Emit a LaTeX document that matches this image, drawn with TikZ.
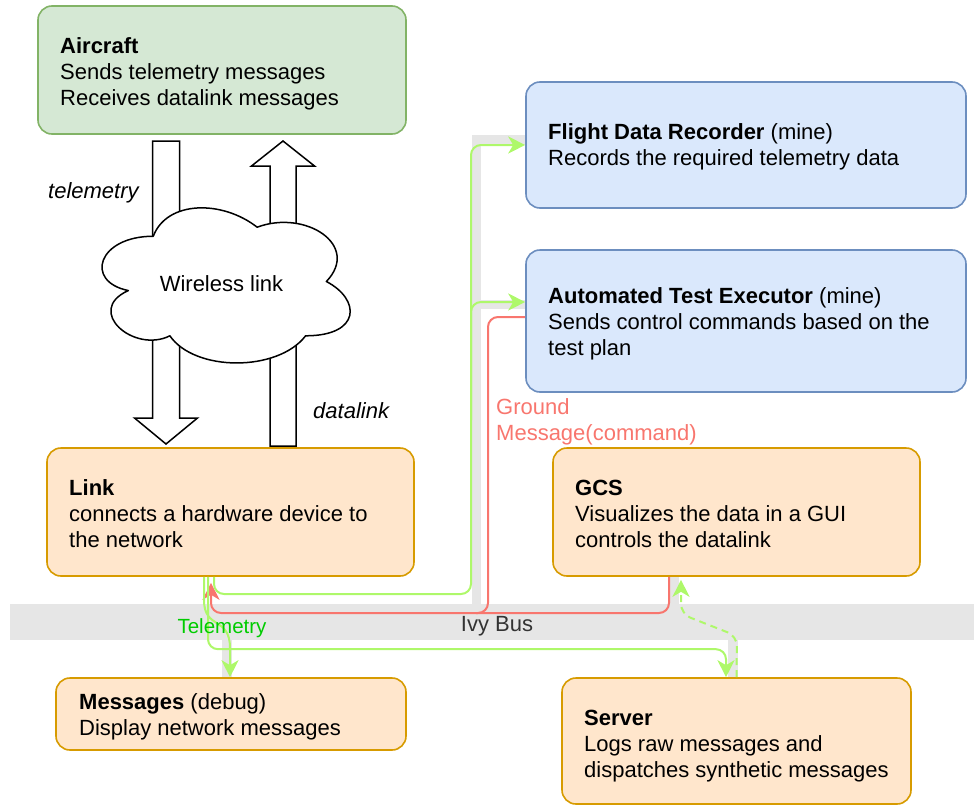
\documentclass[tikz,border=0pt]{standalone}
\usepackage{fontspec}
\setmainfont{Liberation Sans}
\usetikzlibrary{arrows.meta}

\definecolor{grnfill}{HTML}{D5E8D4}
\definecolor{grnline}{HTML}{82B366}
\definecolor{bluefill}{HTML}{DAE8FC}
\definecolor{blueline}{HTML}{6C8EBF}
\definecolor{orgfill}{HTML}{FFE6CC}
\definecolor{orgline}{HTML}{D79B00}
\definecolor{busgray}{HTML}{E6E6E6}
\definecolor{lime}{HTML}{AEF86A}
\definecolor{salmon}{HTML}{F8766E}
\definecolor{telgreen}{HTML}{00CC00}
\definecolor{busText}{HTML}{333333}

\begin{document}
\begin{tikzpicture}[x=1pt,y=-1pt,
  box/.style={rectangle, rounded corners=14pt, line width=1.6pt, inner sep=0pt},
  greenbox/.style={box, fill=grnfill, draw=grnline},
  bluebox/.style={box, fill=bluefill, draw=blueline},
  orangebox/.style={box, fill=orgfill, draw=orgline},
  txt/.style={anchor=base west, inner sep=0pt, font=\fontsize{22}{26}\selectfont},
  lbl/.style={anchor=base west, inner sep=0pt, font=\fontsize{22}{26}\selectfont},
  barfill/.style={fill=busgray, draw=none},
  tip/.style={-{Stealth[length=17pt,width=17pt,inset=5pt]}},
  gline/.style={draw=lime, line width=2pt, rounded corners=10pt},
  rline/.style={draw=salmon, line width=2pt, rounded corners=10pt},
  hollow/.style={draw=black, fill=white, line width=1.5pt, line join=miter}
]
\useasboundingbox (0,0) rectangle (974,806);

% ---- Ivy bus and its link bars
\node[barfill, minimum width=964pt, minimum height=36pt, inner sep=0pt] (bus) at (492,622) {};
\fill[busgray] (471.5,135) rectangle (480.5,604);
\fill[busgray] (471.5,135) rectangle (526,145);
\fill[busgray] (480.5,300) rectangle (526,309);
\fill[busgray] (222,640) rectangle (232,678);
\fill[busgray] (728,640) rectangle (738,678);
\fill[busgray] (669,576) rectangle (679,604);
\node[anchor=base, inner sep=0pt, font=\fontsize{22}{26}\selectfont, text=busText] (buslabel) at (497,631) {Ivy Bus};

% ---- hollow arrows of the wireless link
\draw[hollow] (152.5,141) -- (179.5,141) -- (179.5,418) -- (197.5,418) -- (166,444)
  -- (134.5,418) -- (152.5,418) -- cycle;
\draw[hollow] (270,446) -- (296,446) -- (296,166) -- (314.5,166) -- (283,141)
  -- (251.5,166) -- (270,166) -- cycle;

% ---- cloud
\begin{scope}[shift={(84,191)}, xscale=277, yscale=181]
\draw[hollow, line join=round] (0.25,0.25) .. controls (0.05,0.25) and (0,0.5) .. (0.16,0.55)
  .. controls (0,0.66) and (0.18,0.9) .. (0.31,0.8)
  .. controls (0.4,1) and (0.7,1) .. (0.8,0.8)
  .. controls (1,0.8) and (1,0.6) .. (0.875,0.5)
  .. controls (1,0.3) and (0.8,0.1) .. (0.625,0.2)
  .. controls (0.5,0.05) and (0.3,0.05) .. (0.25,0.25) -- cycle;
\end{scope}
\node[anchor=base, inner sep=0pt, font=\fontsize{22}{26}\selectfont] (wireless) at (221.5,291) {Wireless link};
\node[txt, font=\fontsize{22}{26}\selectfont\itshape] (telemetryLbl) at (48,198) {telemetry};
\node[txt, font=\fontsize{22}{26}\selectfont\itshape] (datalinkLbl) at (313,418) {datalink};

% ---- component boxes
\node[greenbox, minimum width=368pt, minimum height=128pt] (air) at (222,70) {};
\node[bluebox, minimum width=440pt, minimum height=126pt] (fdr) at (746,145) {};
\node[bluebox, minimum width=440pt, minimum height=142pt] (ate) at (746,321) {};
\node[orangebox, minimum width=367pt, minimum height=128pt] (link) at (230.5,512) {};
\node[orangebox, minimum width=367pt, minimum height=128pt] (gcs) at (736.5,512) {};
\node[orangebox, minimum width=350pt, minimum height=72pt] (msg) at (231,714) {};
\node[orangebox, minimum width=349pt, minimum height=126pt] (srv) at (736.5,741) {};

% ---- box texts
\node[txt] (air1) at (60,53) {\textbf{Aircraft}};
\node[txt] (air2) at (60,79) {Sends telemetry messages};
\node[txt] (air3) at (60,105) {Receives datalink messages};

\node[txt] (fdr1) at (548,139.5) {\textbf{Flight Data Recorder} (mine)};
\node[txt] (fdr2) at (548,165.5) {Records the required telemetry data};

\node[txt] (ate1) at (548,303.5) {\textbf{Automated Test Executor} (mine)};
\node[txt] (ate2) at (548,329.5) {Sends control commands based on the};
\node[txt] (ate3) at (548,355.5) {test plan};

\node[txt] (link1) at (69,495.5) {\textbf{Link}};
\node[txt] (link2) at (69,521.5) {connects a hardware device to};
\node[txt] (link3) at (69,547.5) {the network};

\node[txt] (gcs1) at (575,495.5) {\textbf{GCS}};
\node[txt] (gcs2) at (575,521.5) {Visualizes the data in a GUI};
\node[txt] (gcs3) at (575,547.5) {controls the datalink};

\node[txt] (msg1) at (79,709.5) {\textbf{Messages} (debug)};
\node[txt] (msg2) at (79,735.5) {Display network messages};

\node[txt] (srv1) at (584,725.5) {\textbf{Server}};
\node[txt] (srv2) at (584,751.5) {Logs raw messages and};
\node[txt] (srv3) at (584,777.5) {dispatches synthetic messages};

% ---- junction points on the bus
\coordinate (trunk) at (471,594);
\coordinate (trunkup) at (471,420);
\coordinate (rdrop) at (488,613);
\coordinate (rjoin) at (476,613);

% ---- command path (red)
\draw[rline, tip] ([yshift=4pt]ate.west) -| (rdrop) -| ([xshift=-19.5pt,yshift=-6pt]link.south);
\draw[rline] ([xshift=-67.5pt]gcs.south) |- (rjoin);

% ---- telemetry paths (green)
\draw[gline, tip] ([xshift=-16.5pt]link.south) |- (trunk) |- (fdr.west);
\draw[gline, tip] (trunkup) |- ([yshift=19pt]ate.west);
\draw[gline, tip] ([xshift=-22.5pt]link.south) |- ([xshift=-10.5pt,yshift=28pt]srv.north) -- ([xshift=-10.5pt]srv.north);
\draw[draw=lime, line width=2pt, tip] ([xshift=-26.5pt]link.south) -- (204,600)
  .. controls (204,630) and (230,616) .. (230,648) -- ([xshift=-1pt]msg.north);
\draw[gline, tip, dash pattern=on 7pt off 5pt] (srv.north) -- (737,636) -- (681,614)
  -- ([xshift=-55.5pt,yshift=-3pt]gcs.south);

% ---- path labels
\node[lbl, text=salmon] (gm1) at (496,414.5) {Ground};
\node[lbl, text=salmon] (gm2) at (496,440.5) {Message(command)};
\node[anchor=base, inner sep=0pt, font=\fontsize{20.5}{24}\selectfont, text=telgreen] (tel) at (222,633) {Telemetry};

\end{tikzpicture}
\end{document}
